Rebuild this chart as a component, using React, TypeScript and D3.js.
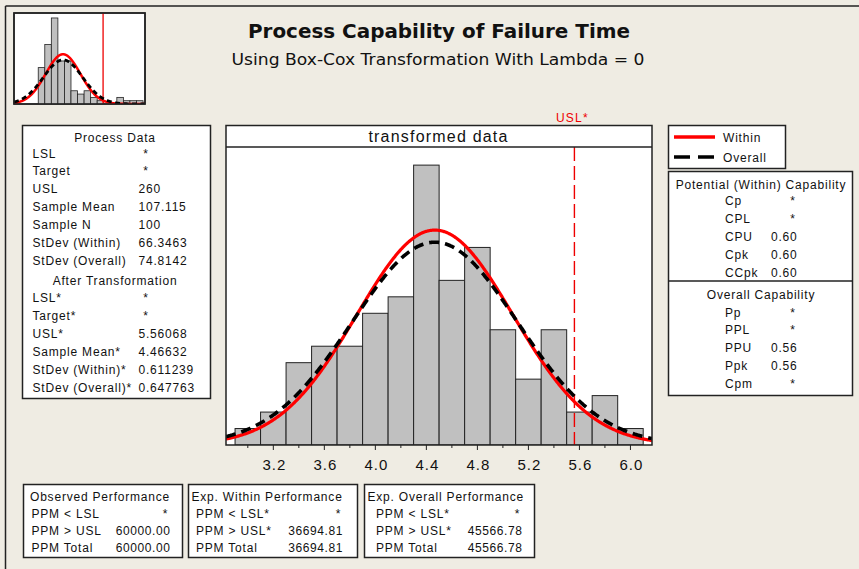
import React from "react";
import * as d3 from "d3";

// ---------- data ----------
const binCenters = [3.0, 3.2, 3.4, 3.6, 3.8, 4.0, 4.2, 4.4, 4.6, 4.8, 5.0, 5.2, 5.4, 5.6, 5.8, 6.0];
const binCounts = [1, 2, 5, 6, 6, 8, 9, 17, 10, 12, 7, 4, 7, 2, 3, 1];
const binWidth = 0.2;
const xMajorTicks = [3.2, 3.6, 4.0, 4.4, 4.8, 5.2, 5.6, 6.0];
const xMinorTicks = [3.0, 3.4, 3.8, 4.2, 4.6, 5.0, 5.4, 5.8];
const uslT = 5.56068;
const meanT = 4.46632;
const sdWithinT = 0.611239;
const sdOverallT = 0.647763;
const sampleN = 100;

const rawBinCenters = [25, 50, 75, 100, 125, 150, 175, 200, 225, 250, 275, 300, 325, 350, 375, 400];
const rawBinCounts = [11, 18, 26, 13, 13, 4, 3, 4, 2, 1, 0, 0, 2, 1, 1, 1];
const rawBinWidth = 25;
const rawUSL = 260;
const rawMean = 107.115;
const rawSdWithin = 66.3463;
const rawSdOverall = 74.8142;

const processLabels = ["LSL", "Target", "USL", "Sample Mean", "Sample N", "StDev (Within)", "StDev (Overall)"];
const processValues = ["*", "*", "260", "107.115", "100", "66.3463", "74.8142"];
const transLabels = ["LSL*", "Target*", "USL*", "Sample Mean*", "StDev (Within)*", "StDev (Overall)*"];
const transValues = ["*", "*", "5.56068", "4.46632", "0.611239", "0.647763"];

const potentialLabels = ["Cp", "CPL", "CPU", "Cpk", "CCpk"];
const potentialValues = ["*", "*", "0.60", "0.60", "0.60"];
const overallLabels = ["Pp", "PPL", "PPU", "Ppk", "Cpm"];
const overallValues = ["*", "*", "0.56", "0.56", "*"];

const perfTitles = ["Observed Performance", "Exp. Within Performance", "Exp. Overall Performance"];
const perfLabels = [
  ["PPM < LSL", "PPM > USL", "PPM Total"],
  ["PPM < LSL*", "PPM > USL*", "PPM Total"],
  ["PPM < LSL*", "PPM > USL*", "PPM Total"],
];
const perfValues = [
  ["*", "60000.00", "60000.00"],
  ["*", "36694.81", "36694.81"],
  ["*", "45566.78", "45566.78"],
];

// ---------- style ----------
const FONT = "'Liberation Sans', Arial, sans-serif";
const TITLE_FONT = "'DejaVu Sans', Verdana, sans-serif";
const BG = "#EFECE3";
const LS = 0.8;

const normPdf = (x: number, m: number, s: number) =>
  Math.exp(-0.5 * ((x - m) / s) ** 2) / (s * Math.sqrt(2 * Math.PI));

function Txt(props: any) {
  const { x, y, children, anchor = "start", size = 12, weight = "normal", fill = "#111", ls = LS, family = FONT, ...rest } = props;
  return (
    <text x={x} y={y} textAnchor={anchor} fontSize={size} fontWeight={weight} fill={fill}
      fontFamily={family} letterSpacing={ls} {...rest}>{children}</text>
  );
}

export default function App() {
  // main plot scales
  const px0 = 226, px1 = 652, pyTop = 147, pyBase = 445;
  const x = d3.scaleLinear().domain([2.829, 6.169]).range([px0, px1]);
  const y = d3.scaleLinear().domain([0, 18.1]).range([pyBase, pyTop]);
  const xs = d3.range(2.829, 6.1695, 0.005);
  const withinPath = d3.line<number>().x((d) => x(d))
    .y((d) => y(sampleN * binWidth * normPdf(d, meanT, sdWithinT)))(xs) || "";
  const overallPath = d3.line<number>().x((d) => x(d))
    .y((d) => y(sampleN * binWidth * normPdf(d, meanT, sdOverallT)))(xs) || "";

  // thumbnail scales
  const tx0 = 14, tx1 = 145, tyTop = 13, tyBase = 104;
  const tx = d3.scaleLinear().domain([-80, 420]).range([tx0, tx1]);
  const ty = d3.scaleLinear().domain([0, 27.5]).range([tyBase, tyTop]);
  const txs = d3.range(-80, 420.5, 1);
  const tWithin = d3.line<number>().x((d) => tx(d))
    .y((d) => ty(sampleN * rawBinWidth * normPdf(d, rawMean, rawSdWithin)))(txs) || "";
  const tOverall = d3.line<number>().x((d) => tx(d))
    .y((d) => ty(sampleN * rawBinWidth * normPdf(d, rawMean, rawSdOverall)))(txs) || "";

  const rowStep = 17.9;
  const bottomBoxes = [
    { x0: 23, x1: 182, tx: 30, lx: 31.5, vx: 170.5, sx: 165 },
    { x0: 188, x1: 357, tx: 191.5, lx: 196, vx: 343, sx: 338 },
    { x0: 364, x1: 534, tx: 367.5, lx: 376, vx: 522.5, sx: 517 },
  ];

  return (
    <svg width={859} height={569} style={{ position: "absolute", left: 0, top: 0 }}>
      <defs>
        <clipPath id="plotClip">
          <rect x={px0} y={pyTop} width={px1 - px0} height={pyBase - pyTop} />
        </clipPath>
        <clipPath id="thumbClip">
          <rect x={tx0} y={tyTop} width={tx1 - tx0} height={tyBase - tyTop} />
        </clipPath>
      </defs>
      <rect x={0} y={0} width={859} height={569} fill={BG} />
      {/* outer frame */}
      <line x1={5.5} y1={6} x2={859} y2={6} stroke="#222" strokeWidth={1.5} />
      <line x1={5.5} y1={6} x2={5.5} y2={569} stroke="#222" strokeWidth={1.5} />

      {/* thumbnail */}
      <rect x={tx0} y={tyTop} width={tx1 - tx0} height={tyBase - tyTop} fill="#fff" stroke="#222" strokeWidth={1.5} />
      <g clipPath="url(#thumbClip)">
        {rawBinCenters.map((c, i) =>
          rawBinCounts[i] > 0 ? (
            <rect key={i} x={tx(c - rawBinWidth / 2)} y={ty(rawBinCounts[i])}
              width={tx(c + rawBinWidth / 2) - tx(c - rawBinWidth / 2)} height={tyBase - ty(rawBinCounts[i])}
              fill="#C0C0C0" stroke="#222" strokeWidth={0.8} />
          ) : null
        )}
        <line x1={tx(rawUSL)} x2={tx(rawUSL)} y1={tyTop} y2={tyBase} stroke="#E00" strokeWidth={1.3} />
        <path d={tWithin} fill="none" stroke="#F00" strokeWidth={2.5} />
        <path d={tOverall} fill="none" stroke="#000" strokeWidth={2.8} strokeDasharray="5 3.5" />
      </g>
      <rect x={tx0} y={tyTop} width={tx1 - tx0} height={tyBase - tyTop} fill="none" stroke="#222" strokeWidth={1.5} />

      {/* titles */}
      <Txt x={439} y={38} anchor="middle" size={19} weight="bold" ls={0} family={TITLE_FONT}
        textLength={382} lengthAdjust="spacingAndGlyphs">
        Process Capability of Failure Time
      </Txt>
      <Txt x={438} y={65} anchor="middle" size={15.5} ls={0} family={TITLE_FONT}
        textLength={413} lengthAdjust="spacingAndGlyphs">
        Using Box-Cox Transformation With Lambda = 0
      </Txt>

      {/* process data box */}
      <rect x={22.5} y={125.5} width={188} height={273} fill="#fff" stroke="#222" strokeWidth={1.5} />
      <Txt x={115} y={141.5} anchor="middle">Process Data</Txt>
      {processLabels.map((l, i) => (
        <g key={l}>
          <Txt x={32.5} y={157.5 + i * rowStep}>{l}</Txt>
          {processValues[i] === "*" ? (
            <Txt x={145.5} y={157.5 + i * rowStep} anchor="middle" ls={0}>*</Txt>
          ) : (
            <Txt x={138.5} y={157.5 + i * rowStep}>{processValues[i]}</Txt>
          )}
        </g>
      ))}
      <Txt x={115} y={284.5} anchor="middle">After Transformation</Txt>
      {transLabels.map((l, i) => (
        <g key={l}>
          <Txt x={32.5} y={302.3 + i * rowStep}>{l}</Txt>
          {transValues[i] === "*" ? (
            <Txt x={145.5} y={302.3 + i * rowStep} anchor="middle" ls={0}>*</Txt>
          ) : (
            <Txt x={138.5} y={302.3 + i * rowStep}>{transValues[i]}</Txt>
          )}
        </g>
      ))}

      {/* main chart */}
      <rect x={px0} y={125.5} width={px1 - px0} height={pyTop - 125.5} fill="#fff" />
      <rect x={px0} y={pyTop} width={px1 - px0} height={pyBase - pyTop} fill="#fff" />
      <Txt x={438.5} y={142} anchor="middle" size={16} ls={1.2}>transformed data</Txt>
      <g clipPath="url(#plotClip)">
        {binCenters.map((c, i) => (
          <rect key={i} x={x(c - binWidth / 2)} y={y(binCounts[i])}
            width={x(c + binWidth / 2) - x(c - binWidth / 2)} height={pyBase - y(binCounts[i])}
            fill="#C0C0C0" stroke="#222" strokeWidth={1} />
        ))}
        <line x1={x(uslT)} x2={x(uslT)} y1={pyTop} y2={pyBase} stroke="#E00" strokeWidth={1.4} strokeDasharray="14 5" />
        <path d={withinPath} fill="none" stroke="#F00" strokeWidth={3.2} />
        <path d={overallPath} fill="none" stroke="#000" strokeWidth={3.6} strokeDasharray="10 6" />
      </g>
      <rect x={px0} y={125.5} width={px1 - px0} height={pyBase - 125.5} fill="none" stroke="#222" strokeWidth={1.5} />
      <line x1={px0} x2={px1} y1={pyTop} y2={pyTop} stroke="#222" strokeWidth={1.5} />
      <Txt x={x(uslT) - 2} y={121.5} anchor="middle" fill="#E00" ls={1.2}>USL*</Txt>
      {xMajorTicks.map((t) => (
        <g key={t}>
          <line x1={x(t)} x2={x(t)} y1={pyBase} y2={pyBase + 5} stroke="#222" strokeWidth={1} />
          <Txt x={x(t) + 1} y={470} anchor="middle" size={15} ls={1}>{d3.format(".1f")(t)}</Txt>
        </g>
      ))}
      {xMinorTicks.map((t) => (
        <line key={t} x1={x(t)} x2={x(t)} y1={pyBase} y2={pyBase + 3} stroke="#222" strokeWidth={1} />
      ))}

      {/* legend */}
      <rect x={668.5} y={125.5} width={117} height={43} fill="#fff" stroke="#222" strokeWidth={1.5} />
      <line x1={674} x2={715} y1={137} y2={137} stroke="#F00" strokeWidth={3.5} />
      <Txt x={723} y={141.5}>Within</Txt>
      <line x1={674} x2={715} y1={157} y2={157} stroke="#000" strokeWidth={3.5} strokeDasharray="16 8" />
      <Txt x={723} y={161.5}>Overall</Txt>

      {/* capability box */}
      <rect x={668.5} y={171.5} width={184} height={224} fill="#fff" stroke="#222" strokeWidth={1.5} />
      <line x1={668.5} x2={852.5} y1={281} y2={281} stroke="#222" strokeWidth={1.5} />
      <Txt x={761} y={188.5} anchor="middle">Potential (Within) Capability</Txt>
      {potentialLabels.map((l, i) => (
        <g key={l}>
          <Txt x={725} y={205 + i * rowStep}>{l}</Txt>
          {potentialValues[i] === "*" ? (
            <Txt x={792.5} y={205 + i * rowStep} anchor="middle" ls={0}>*</Txt>
          ) : (
            <Txt x={771} y={205 + i * rowStep}>{potentialValues[i]}</Txt>
          )}
        </g>
      ))}
      <Txt x={761} y={298.5} anchor="middle">Overall Capability</Txt>
      {overallLabels.map((l, i) => (
        <g key={l}>
          <Txt x={725} y={316.5 + i * rowStep}>{l}</Txt>
          {overallValues[i] === "*" ? (
            <Txt x={792.5} y={316.5 + i * rowStep} anchor="middle" ls={0}>*</Txt>
          ) : (
            <Txt x={771} y={316.5 + i * rowStep}>{overallValues[i]}</Txt>
          )}
        </g>
      ))}

      {/* performance boxes */}
      {bottomBoxes.map((b, k) => (
        <g key={k}>
          <rect x={b.x0 + 0.5} y={484.5} width={b.x1 - b.x0} height={73} fill="#fff" stroke="#222" strokeWidth={1.5} />
          <Txt x={b.tx} y={500.5}>{perfTitles[k]}</Txt>
          {perfLabels[k].map((l, i) => (
            <g key={i}>
              <Txt x={b.lx} y={517.5 + i * 17.3}>{l}</Txt>
              {perfValues[k][i] === "*" ? (
                <Txt x={b.sx} y={517.5 + i * 17.3} anchor="middle" ls={0}>*</Txt>
              ) : (
                <Txt x={b.vx} y={517.5 + i * 17.3} anchor="end" ls={0.6}>{perfValues[k][i]}</Txt>
              )}
            </g>
          ))}
        </g>
      ))}
    </svg>
  );
}
